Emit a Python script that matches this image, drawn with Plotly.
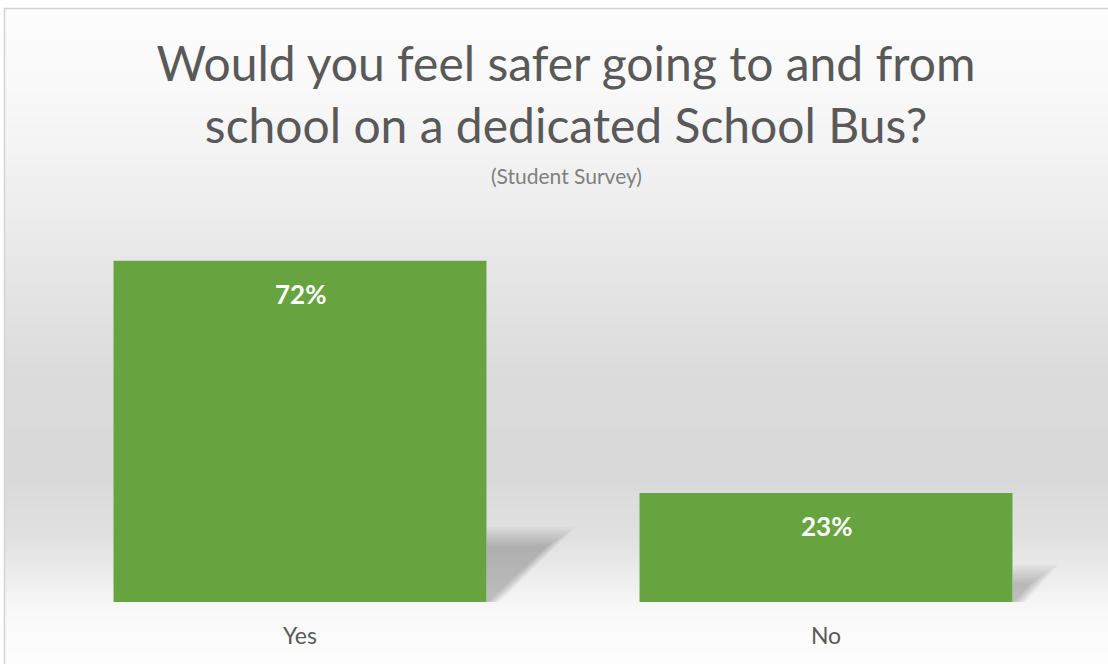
import plotly.graph_objects as go

categories = ["Yes", "No"]
values = [72, 23]
value_labels = ["72%", "23%"]

title_text = "Would you feel safer going to and from<br>school on a dedicated School Bus?"
subtitle_text = "(Student Survey)"

W, H = 1108, 664
L, R, T, B = 37, 19, 230, 62
plot_h = H - T - B
plot_w = W - L - R
PX_PER_UNIT = 4.74
YMAX = plot_h / PX_PER_UNIT
BAR_W = 0.709

def py(p):
    return (H - B - p) / plot_h

def px(p):
    return (p - L) / plot_w

# background gradient stops (pixel y, grey level)
stops = [(8, 253), (100, 248), (180, 240), (290, 228), (380, 219), (480, 218),
         (540, 225), (580, 238), (610, 248), (640, 252), (664, 253)]

def grey_at(y):
    for (y0, g0), (y1, g1) in zip(stops[:-1], stops[1:]):
        if y0 <= y <= y1:
            return g0 + (g1 - g0) * (y - y0) / (y1 - y0)
    return stops[-1][1]

shapes = []
step = 4
y = 8
while y < H:
    g = int(round(grey_at(y + step / 2)))
    shapes.append(dict(type="rect", xref="paper", yref="paper",
                       x0=px(4), x1=px(W + 5), y0=py(y + step + 0.5), y1=py(y),
                       fillcolor=f"rgb({g},{g},{g})", line=dict(width=0), layer="below"))
    y += step
# frame
shapes.append(dict(type="rect", xref="paper", yref="paper",
                   x0=px(4.5), x1=px(W + 10), y0=py(H + 10), y1=py(8.5),
                   fillcolor="rgba(0,0,0,0)", line=dict(color="#d4d4d4", width=1.5), layer="below"))

# soft drop shadows to the right of each bar (derived from bar geometry)
unit_px_x = plot_w / 2.0
for i, v in enumerate(values):
    xr = i + BAR_W / 2
    h = 0.16 * v + 2.5                     # shadow height in data units
    dx = h * PX_PER_UNIT * 1.15 / unit_px_x
    n = 10
    for k in range(n):
        s = (k - n / 2) / (n / 2)           # -1..1 spread
        e = s * 0.03
        eh = s * 2.2
        path = (f"M {xr},{0} L {xr},{h + eh} L {xr + dx + e},{h + eh} "
                f"L {xr + 0.015 + e * 0.4},{0} Z")
        shapes.append(dict(type="path", xref="x", yref="y", path=path,
                           fillcolor="rgba(0,0,0,0.022)", line=dict(width=0), layer="below"))

fig = go.Figure()
fig.add_trace(go.Bar(
    x=categories, y=values,
    marker=dict(color="#67a33f", line=dict(width=0)),
    width=BAR_W,
    hoverinfo="skip",
))

annotations = []
for c, v, t in zip(categories, values, value_labels):
    annotations.append(dict(x=c, y=v, xref="x", yref="y", text=t, showarrow=False,
                            yanchor="middle", yshift=-33,
                            font=dict(family="Lato", size=26, color="white", weight="bold")))
annotations.append(dict(x=px(566), y=py(176), xref="paper", yref="paper",
                        text=subtitle_text, showarrow=False, yanchor="middle",
                        font=dict(family="Lato", size=21, color="#7f7f7f")))

fig.update_layout(
    width=W, height=H,
    margin=dict(l=L, r=R, t=T, b=B),
    paper_bgcolor="white",
    plot_bgcolor="rgba(0,0,0,0)",
    title=dict(text=title_text, x=566 / W, xanchor="center", y=1 - 81 / H, yanchor="top",
               xref="container", yref="container",
               font=dict(family="Lato", size=48, color="#595959")),
    xaxis=dict(showgrid=False, zeroline=False, showline=False, ticks="",
               tickfont=dict(family="Lato", size=23, color="#595959"),
               ticklabelstandoff=18,
               range=[-0.5, 1.5]),
    yaxis=dict(visible=False, range=[0, YMAX]),
    shapes=shapes,
    annotations=annotations,
    showlegend=False,
)

fig.write_html("out.html",
               config={"displayModeBar": False},
               post_script="document.body.style.margin='0';document.body.style.overflow='hidden';")
